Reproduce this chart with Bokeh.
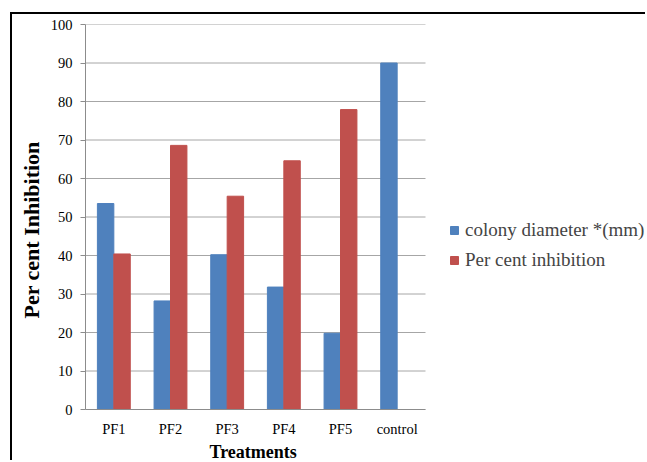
from bokeh.plotting import figure
from bokeh.models import Range1d, Legend, LegendItem, FixedTicker, ColumnDataSource, Title
from bokeh.transform import dodge
from bokeh.embed import file_html
from bokeh.resources import INLINE

categories = ["PF1", "PF2", "PF3", "PF4", "PF5", "control"]
colony_diameter = [53.5, 28.2, 40.2, 31.8, 19.8, 90.0]
per_cent_inhibition = [40.4, 68.6, 55.4, 64.6, 77.9, 0.0]
series_names = ["colony diameter *(mm)", "Per cent inhibition"]
y_ticks = list(range(0, 101, 10))
x_title = "Treatments"
y_title = "Per cent Inhibition"

FONT = "'Liberation Serif', 'Times New Roman', serif"

# layout constants (pixels)
PLOT_W, PLOT_H = 635, 448
LEFT, TOP, BOTTOM = 73, 10, 53
AXIS_W = 340  # pixel width of the category axis
frame_w = PLOT_W - LEFT
n = len(categories)
x_end = n * frame_w / AXIS_W

centers = [i + 0.5 for i in range(n)]
src = ColumnDataSource(dict(x=centers, blue=colony_diameter, red=per_cent_inhibition))

p = figure(x_range=Range1d(0, x_end), y_range=Range1d(0, 100),
           width=PLOT_W, height=PLOT_H, output_backend="svg", toolbar_location=None,
           min_border_left=LEFT, min_border_right=0, min_border_top=TOP, min_border_bottom=BOTTOM)
p.styles = {"border-top": "2px solid black", "border-left": "2px solid black",
            "margin-left": "10px", "margin-top": "12px"}
p.outline_line_color = None
p.background_fill_color = "white"
p.border_fill_color = "white"

p.xgrid.grid_line_color = None
p.ygrid.grid_line_color = None
# horizontal gridlines limited to the category area
p.segment(x0=[0] * len(y_ticks), x1=[n] * len(y_ticks), y0=y_ticks, y1=y_ticks,
          line_color="#a6a6a6", line_width=1)

BW = 0.29
r1 = p.vbar(x=dodge("x", -BW / 2), top="blue", width=BW, source=src,
            fill_color="#4F81BD", line_color="#4F81BD")
r2 = p.vbar(x=dodge("x", BW / 2), top="red", width=BW, source=src,
            fill_color="#C0504D", line_color="#C0504D")

p.xaxis.ticker = FixedTicker(ticks=centers)
p.xaxis.major_label_overrides = {c: lab for c, lab in zip(centers, categories)}
p.xaxis.bounds = (0, n)
p.yaxis.ticker = FixedTicker(ticks=y_ticks)

for ax in (p.xaxis[0], p.yaxis[0]):
    ax.axis_line_color = "#8c8c8c"
    ax.major_tick_line_color = "#8c8c8c"
    ax.minor_tick_line_color = None
    ax.major_label_text_font = FONT
    ax.major_label_text_font_size = "14.5px"
    ax.major_label_text_color = "black"

p.xaxis.major_tick_line_color = None
p.xaxis.major_label_standoff = 5
p.yaxis.major_tick_out = 5
p.yaxis.major_tick_in = 0
p.yaxis.major_label_standoff = 8

tx = Title(text=x_title, align="left", offset=124, text_font=FONT, text_font_size="18px",
           text_font_style="bold", text_color="black", standoff=0, text_line_height=0.8)
p.add_layout(tx, "below")
ty = Title(text=y_title, align="left", offset=91, text_font=FONT, text_font_size="22px",
           text_font_style="bold", text_color="black", standoff=8)
p.add_layout(ty, "left")

legend = Legend(items=[LegendItem(label=series_names[0], renderers=[r1]),
                       LegendItem(label=series_names[1], renderers=[r2])],
                location=(364, 138), orientation="vertical")
legend.label_text_font = FONT
legend.label_text_font_size = "19px"
legend.glyph_width = 10
legend.glyph_height = 10
legend.label_height = 20
legend.label_standoff = 6
legend.spacing = 8
legend.padding = 0
legend.margin = 0
legend.border_line_color = None
legend.background_fill_alpha = 0
p.add_layout(legend, "center")

open("out.html", "w").write(file_html(p, INLINE))
